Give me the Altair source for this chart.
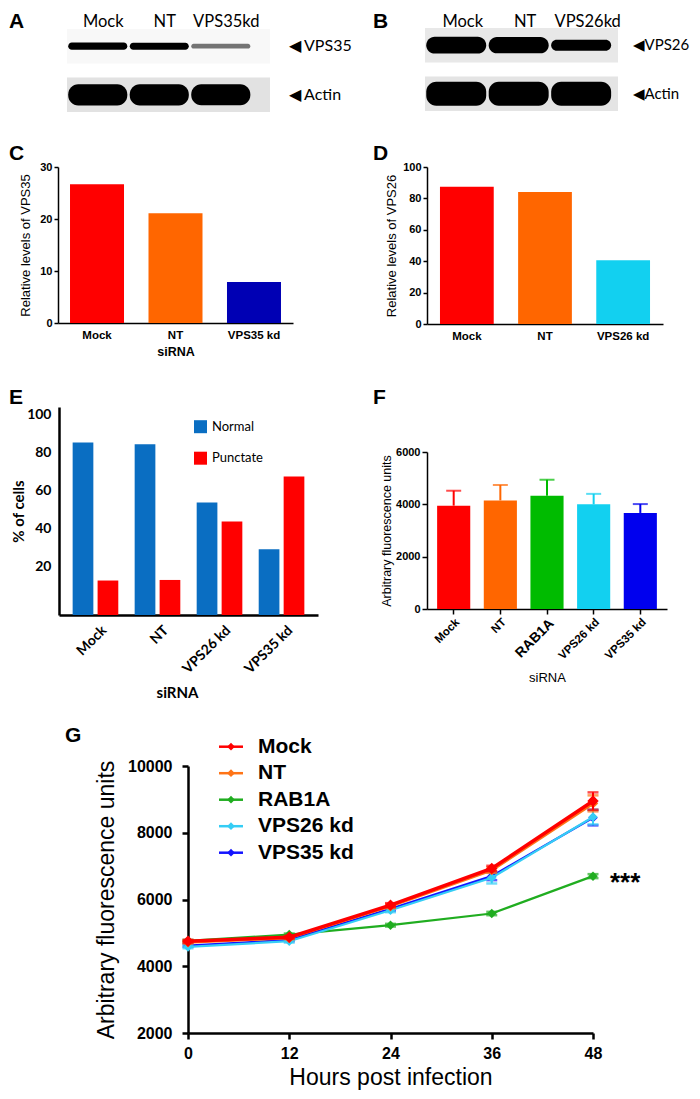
import altair as alt
import pandas as pd

# ---------------- data ----------------
blot_a_lanes = ["Mock", "NT", "VPS35kd"]
blot_a_rows = ["VPS35", "Actin"]
blot_a_vps35 = [0.20, 0.19, 0.08]
blot_a_actin = [0.87, 0.87, 0.86]

blot_b_lanes = ["Mock", "NT", "VPS26kd"]
blot_b_rows = ["VPS26", "Actin"]
blot_b_vps26 = [0.66, 0.63, 0.38]
blot_b_actin = [1.0, 1.0, 1.0]

c_cats = ["Mock", "NT", "VPS35 kd"]
c_vals = [26.7, 21.1, 7.9]

d_cats = ["Mock", "NT", "VPS26 kd"]
d_vals = [87.4, 84.0, 40.6]

e_cats = ["Mock", "NT", "VPS26 kd", "VPS35 kd"]
e_groups = ["Normal", "Punctate"]
e_normal = [85.0, 84.2, 53.5, 29.0]
e_punctate = [12.6, 12.9, 43.6, 67.2]

f_cats = ["Mock", "NT", "RAB1A", "VPS26 kd", "VPS35 kd"]
f_mean = [3950, 4150, 4330, 4000, 3670]
f_sem = [570, 590, 610, 400, 340]

g_hours = [0, 12, 24, 36, 48]
g_series = ["Mock", "NT", "RAB1A", "VPS26 kd", "VPS35 kd"]
g_mock = [4750, 4870, 5830, 6930, 8950]
g_nt = [4720, 4850, 5800, 6880, 8880]
g_rab1a = [4760, 4950, 5230, 5580, 6700]
g_vps26 = [4580, 4750, 5680, 6650, 8470]
g_vps35 = [4620, 4790, 5720, 6700, 8450]
g_mock_err = [40, 40, 60, 80, 260]
g_nt_err = [40, 40, 60, 80, 240]
g_rab1a_err = [30, 30, 40, 50, 60]
g_vps26_err = [40, 40, 60, 170, 220]
g_vps35_err = [40, 40, 60, 120, 230]

# ---------------- styles / layout ----------------
ARIAL = "Liberation Sans"
CAL = "Lato"
W, H = 684, 1083

def px(x):
    return x - 8

def py(y):
    return y - 8

def off_left(x):
    return -px(x)

def off_bottom(y):
    return py(y) - H

def off_top(y):
    return -py(y)

def off_right(x):
    return px(x) - W

c_colors = ["#ff0000", "#ff6600", "#0000b4"]
d_colors = ["#ff0000", "#ff6600", "#12d0f0"]
e_colors = ["#0a6ec2", "#ff0000"]
f_colors = ["#ff0000", "#ff6600", "#00bb00", "#12d0f0", "#0000ee"]
g_colors = ["#ff0000", "#ff7417", "#20ad20", "#35cdf5", "#1414ff"]


# ---------------- A / B : blots ----------------
def make_blot(lanes, rows, signals, x0, x1, extent, y0, y1, prefix,
              lab_offset, lab_y, row_lab_x, row_font, bg_colors):
    recs = []
    for r, sig in zip(rows, signals):
        for i, (l, s) in enumerate(zip(lanes, sig)):
            recs.append({"row": r, "lane": l, "idx": i, "signal": s})
    df = pd.DataFrame(recs)
    xs = alt.Scale(domain=[0, extent], range=[px(x0), px(x1)], nice=False, zero=False)
    ys = alt.Scale(domain=rows, range=[py(y0), py(y1)], paddingInner=0.293, paddingOuter=0)
    lane_expr = "[" + ",".join("'%s'" % l for l in lanes) + "][floor(datum.value)]"
    xaxis = alt.Axis(orient="top", offset=off_top(lab_y),
                     values=[i + 0.5 for i in range(len(lanes))],
                     labelExpr=lane_expr, domain=False, ticks=False,
                     labelFont=CAL, labelFontSize=16.5, labelPadding=1,
                     labelFlush=False, labelOverlap=False, labelOffset=lab_offset,
                     labelAngle=0, title=None)
    yaxis = alt.Axis(orient="right", offset=off_right(row_lab_x),
                     labelExpr="'%s' + datum.value" % prefix, domain=False, ticks=False,
                     labelFont=CAL, labelFontSize=row_font, labelPadding=0, title=None)
    bg = alt.Chart(pd.DataFrame({"row": rows})).mark_rect().encode(
        x=alt.XDatum(0, scale=xs, axis=xaxis, type="quantitative"),
        x2=alt.X2Datum(extent),
        y=alt.Y("row:N", sort=rows, scale=ys, axis=yaxis),
        color=alt.Color("row:N", scale=alt.Scale(domain=rows, range=bg_colors), legend=None),
    )
    bands = alt.Chart(df).transform_calculate(
        s="datum.idx + 0.02", e="datum.idx + 0.98"
    ).mark_bar(color="black", cornerRadius=10).encode(
        x=alt.X("s:Q", scale=xs, axis=xaxis),
        x2="e:Q",
        y=alt.Y("row:N", sort=rows, scale=ys, axis=yaxis),
        size=alt.Size("signal:Q", scale=alt.Scale(domain=[0, 1], range=[3, 24]), legend=None),
        opacity=alt.Opacity("signal:Q", scale=alt.Scale(domain=[0, 0.15], range=[0, 1], clamp=True), legend=None),
    )
    return alt.layer(bg, bands)


blot_a = make_blot(blot_a_lanes, blot_a_rows, [blot_a_vps35, blot_a_actin],
                   67, 270, 3.3, 29, 112, "\u25c0 ", 5, 30, 288, 16,
                   ["#f8f8f8", "#e2e2e2"])
blot_b = make_blot(blot_b_lanes, blot_b_rows, [blot_b_vps26, blot_b_actin],
                   425, 618, 3.09, 28, 111, "\u25c0", 6, 30, 632, 15,
                   ["#e8e8e8", "#e4e4e4"])


# ---------------- C / D : simple bars ----------------
def simple_bars(cats, vals, colors, x0, x1, p_in, p_out, y_zero, y_top, ymax, yvals,
                ytitle, xtitle, title_pad):
    df = pd.DataFrame({"cat": cats, "val": vals})
    xaxis = alt.Axis(orient="bottom", offset=off_bottom(y_zero), labelAngle=0, ticks=False,
                     domainWidth=1.5, labelFont=ARIAL, labelFontWeight="bold", labelFontSize=11.5,
                     labelPadding=6, titleFont=ARIAL, titleFontSize=12.5, titleFontWeight="bold",
                     titlePadding=5, title=xtitle)
    yaxis = alt.Axis(orient="left", offset=off_left(x0), values=yvals, tickSize=4, tickWidth=1.5,
                     domainWidth=1.5, labelFont=ARIAL, labelFontWeight="bold", labelFontSize=11,
                     labelPadding=2, labelFlush=False, format="d", titleFont=ARIAL, titleFontSize=13,
                     titleFontWeight="normal", titlePadding=title_pad, title=ytitle)
    return alt.Chart(df).mark_bar().encode(
        x=alt.X("cat:N", sort=cats,
                scale=alt.Scale(domain=cats, range=[px(x0), px(x1)], paddingInner=p_in, paddingOuter=p_out),
                axis=xaxis),
        y=alt.Y("val:Q", scale=alt.Scale(domain=[0, ymax], range=[py(y_zero), py(y_top)], nice=False, zero=False),
                axis=yaxis),
        color=alt.Color("cat:N", scale=alt.Scale(domain=cats, range=colors), legend=None),
    )


panel_c = simple_bars(c_cats, c_vals, c_colors, 58, 293, 0.312, 0.153, 323, 167, 30,
                      [0, 10, 20, 30], "Relative levels of VPS35", "siRNA", 7)
panel_d = simple_bars(d_cats, d_vals, d_colors, 427, 663, 0.312, 0.166, 324, 167, 100,
                      [0, 20, 40, 60, 80, 100], "Relative levels of VPS26", None, 4)

# ---------------- E : grouped bars ----------------
E_MIN, E_MAX = -5.5, 103.7
e_df = pd.DataFrame({
    "cat": e_cats + e_cats,
    "type": [e_groups[0]] * len(e_cats) + [e_groups[1]] * len(e_cats),
    "val": e_normal + e_punctate,
})
panel_e = alt.Chart(e_df).mark_bar().encode(
    x=alt.X("cat:N", sort=e_cats,
            scale=alt.Scale(domain=e_cats, range=[px(59), px(318)], paddingInner=0.264, paddingOuter=0.22),
            axis=alt.Axis(orient="bottom", offset=off_bottom(615), ticks=False, domainWidth=2.5,
                          labelAngle=-45, labelFont=CAL, labelFontWeight="bold", labelFontSize=14,
                          labelPadding=8, labelOffset=4, title="siRNA", titleFont=CAL,
                          titleFontSize=15, titleFontWeight="bold", titlePadding=10, titleX=px(177))),
    xOffset=alt.XOffset("type:N", sort=e_groups,
                        scale=alt.Scale(domain=e_groups, paddingInner=0.17, paddingOuter=0)),
    y=alt.Y("val:Q", scale=alt.Scale(domain=[E_MIN, E_MAX], range=[py(615), py(407)], nice=False, zero=False),
            axis=alt.Axis(orient="left", offset=off_left(59), values=[20, 40, 60, 80, 100], ticks=False,
                          domainWidth=2.5, labelFont=CAL, labelFontWeight="bold", labelFontSize=14,
                          labelPadding=8, labelFlush=False, title="% of cells", titleFont=CAL,
                          titleFontSize=15, titleFontWeight="bold", titlePadding=0)),
    y2=alt.Y2Datum(E_MIN),
    color=alt.Color("type:N", scale=alt.Scale(domain=e_groups, range=e_colors),
                    legend=alt.Legend(orient="none", legendX=px(194), legendY=py(420.2), title=None,
                                      symbolType="square", symbolSize=169, symbolStrokeWidth=0,
                                      labelFont=CAL, labelFontSize=13, rowPadding=17.5,
                                      labelOffset=5, padding=0)),
)

# ---------------- F : bars with error ----------------
f_df = pd.DataFrame({"cat": f_cats, "mean": f_mean, "sem": f_sem})
f_xs = alt.Scale(domain=f_cats, range=[px(427), px(667)], paddingInner=0.29, paddingOuter=0.217)
f_ys = alt.Scale(domain=[0, 6000], range=[py(609), py(452)], nice=False, zero=False)
f_xaxis = alt.Axis(orient="bottom", offset=off_bottom(609), tickSize=5, tickWidth=1.5, domainWidth=1.5,
                   labelAngle=-45, labelFont=ARIAL, labelFontWeight="bold",
                   labelFontSize={"condition": {"test": "datum.value === 'RAB1A'", "value": 14}, "value": 11.5},
                   labelPadding=2, title="siRNA", titleFont=ARIAL, titleFontSize=13,
                   titleFontWeight="normal", titlePadding=10)
f_yaxis = alt.Axis(orient="left", offset=off_left(427), values=[0, 2000, 4000, 6000], tickSize=5,
                   tickWidth=1.5, domainWidth=1.5, labelFont=ARIAL, labelFontWeight="bold",
                   labelFontSize=11, labelPadding=2, labelFlush=False, format="d",
                   title="Arbitrary fluorescence units", titleFont=ARIAL, titleFontSize=12.5,
                   titleFontWeight="normal", titlePadding=2)
f_x = alt.X("cat:N", sort=f_cats, scale=f_xs, axis=f_xaxis)
f_color = alt.Color("cat:N", scale=alt.Scale(domain=f_cats, range=f_colors), legend=None)
f_base = alt.Chart(f_df).transform_calculate(hi="datum.mean + datum.sem")
panel_f = alt.layer(
    f_base.mark_bar().encode(x=f_x, y=alt.Y("mean:Q", scale=f_ys, axis=f_yaxis), color=f_color),
    f_base.mark_rule(strokeWidth=2).encode(x=f_x, y=alt.Y("mean:Q", scale=f_ys, axis=f_yaxis),
                                           y2="hi:Q", color=f_color),
    f_base.mark_tick(orient="horizontal", size=15, thickness=2).encode(
        x=f_x, y=alt.Y("hi:Q", scale=f_ys, axis=f_yaxis), color=f_color),
)

# ---------------- G : time course ----------------
g_vals = {"Mock": g_mock, "NT": g_nt, "RAB1A": g_rab1a, "VPS26 kd": g_vps26, "VPS35 kd": g_vps35}
g_errs = {"Mock": g_mock_err, "NT": g_nt_err, "RAB1A": g_rab1a_err,
          "VPS26 kd": g_vps26_err, "VPS35 kd": g_vps35_err}
g_recs = []
for s in g_series:
    for h, v, e in zip(g_hours, g_vals[s], g_errs[s]):
        g_recs.append({"h": h, "series": s, "val": v, "err": e})
g_df = pd.DataFrame(g_recs)

g_xs = alt.Scale(domain=[0, 48], range=[px(188), px(593)], nice=False, zero=False)
g_ys = alt.Scale(domain=[2000, 10000], range=[py(1033), py(766)], nice=False, zero=False)
g_xaxis = alt.Axis(orient="bottom", offset=off_bottom(1033), values=g_hours, tickSize=6, tickWidth=2.5,
                   domainWidth=2.5, labelFont=ARIAL, labelFontWeight="bold", labelFontSize=16,
                   labelPadding=6, labelFlush=False, labelOverlap=False, format="d",
                   title="Hours post infection", titleFont=ARIAL, titleFontSize=23,
                   titleFontWeight="normal", titlePadding=5)
g_yaxis = alt.Axis(orient="left", offset=off_left(188), values=[2000, 4000, 6000, 8000, 10000],
                   tickSize=6, tickWidth=2.5, domainWidth=2.5, labelFont=ARIAL, labelFontWeight="bold",
                   labelFontSize=16, labelPadding=10, labelFlush=False, labelOverlap=False, format="d",
                   title="Arbitrary fluorescence units", titleFont=ARIAL, titleFontSize=23,
                   titleFontWeight="normal", titlePadding=9)
g_x = alt.X("h:Q", scale=g_xs, axis=g_xaxis)
g_color = alt.Color("series:N", scale=alt.Scale(domain=g_series, range=g_colors), legend=None)

g_draw_order = ["RAB1A", "VPS35 kd", "VPS26 kd", "NT", "Mock"]
g_line_w = {"RAB1A": 2.2, "VPS35 kd": 2.2, "VPS26 kd": 2.2, "NT": 3, "Mock": 3.5}
g_pt = {"RAB1A": 90, "VPS35 kd": 90, "VPS26 kd": 90, "NT": 110, "Mock": 130}
g_layers = []
for name in g_draw_order:
    base = alt.Chart(g_df).transform_filter(alt.datum.series == name).transform_calculate(
        lo="datum.val - datum.err", hi="datum.val + datum.err")
    g_layers += [
        base.mark_rule(strokeWidth=2).encode(
            x=g_x, y=alt.Y("lo:Q", scale=g_ys, axis=g_yaxis), y2="hi:Q", color=g_color),
        base.mark_tick(orient="horizontal", size=11, thickness=2.5).encode(
            x=g_x, y=alt.Y("hi:Q", scale=g_ys, axis=g_yaxis), color=g_color),
        base.mark_tick(orient="horizontal", size=11, thickness=2.5).encode(
            x=g_x, y=alt.Y("lo:Q", scale=g_ys, axis=g_yaxis), color=g_color),
        base.mark_line(strokeWidth=g_line_w[name]).encode(
            x=g_x, y=alt.Y("val:Q", scale=g_ys, axis=g_yaxis), color=g_color),
        base.mark_point(shape="diamond", filled=True, opacity=1, size=g_pt[name]).encode(
            x=g_x, y=alt.Y("val:Q", scale=g_ys, axis=g_yaxis), color=g_color),
    ]
g_star = alt.Chart(pd.DataFrame({"t": ["***"]})).mark_text(
    font=ARIAL, fontSize=26, fontWeight="bold", align="left", baseline="middle", dx=17, dy=7
).encode(x=alt.XDatum(g_hours[-1], type="quantitative"),
         y=alt.YDatum(g_rab1a[-1], type="quantitative"), text="t:N")
panel_g = alt.layer(*g_layers, g_star)

# legend of G
gl_df = pd.DataFrame({"series": g_series})
gl_y = alt.Y("series:N", sort=g_series,
             scale=alt.Scale(type="point", domain=g_series, range=[py(746.7), py(852.7)], padding=0),
             axis=None)
gl_color = alt.Color("series:N", scale=alt.Scale(domain=g_series, range=g_colors), legend=None)
g_legend = alt.layer(
    alt.Chart(gl_df).mark_rule(strokeWidth=2.5).encode(
        x=alt.value(px(219)), x2=alt.value(px(243)), y=gl_y, color=gl_color),
    alt.Chart(gl_df).mark_point(shape="diamond", filled=True, opacity=1, size=60).encode(
        x=alt.value(px(231)), y=gl_y, color=gl_color),
    alt.Chart(gl_df).mark_text(font=ARIAL, fontSize=21, fontWeight="bold", align="left",
                               baseline="middle", color="black").encode(
        x=alt.value(px(258)), y=gl_y, text="series:N"),
)

# ---------------- panel letters ----------------
letters = ["A", "B", "C", "D", "E", "F", "G"]
letter_pos = [(9, 28), (373, 28), (9, 160), (373, 160), (9, 404), (373, 404), (65, 742)]
letter_layers = []
for lt, (lx, ly) in zip(letters, letter_pos):
    letter_layers.append(
        alt.Chart(pd.DataFrame({"t": [lt]})).mark_text(
            font=ARIAL, fontSize=21, fontWeight="bold", align="left", baseline="alphabetic",
            color="black").encode(x=alt.value(px(lx)), y=alt.value(py(ly)), text="t:N"))

chart = alt.layer(
    blot_a, blot_b, panel_c, panel_d, panel_e, panel_f, panel_g, g_legend, *letter_layers
).resolve_scale(
    x="independent", y="independent", color="independent", size="independent",
    opacity="independent", xOffset="independent"
).properties(
    width=W, height=H, padding=0, autosize=alt.AutoSizeParams(type="none"), background="white"
).configure_view(stroke=None).configure_axis(
    grid=False, labelColor="black", titleColor="black", domainColor="black", tickColor="black"
)

chart.save("out.html", embed_options={"renderer": "svg", "actions": False})
